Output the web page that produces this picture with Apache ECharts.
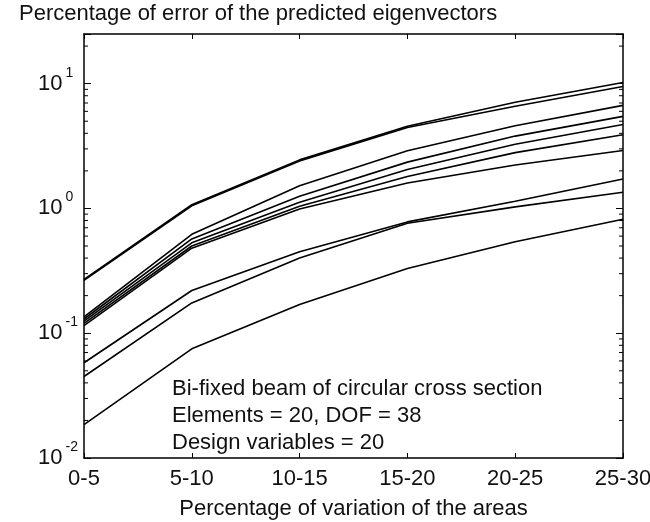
<!DOCTYPE html>
<html><head><meta charset="utf-8">
<script src="https://cdn.jsdelivr.net/npm/echarts@6/dist/echarts.min.js"></script>
<style>html,body{margin:0;padding:0;background:#fff}#c{width:650px;height:522px}</style>
</head><body><div id="c"></div>
<script>
// ---- data ----
const categories = ['0-5', '5-10', '10-15', '15-20', '20-25', '25-30'];
const line1 = [0.27, 1.07, 2.45, 4.55, 7.1, 10.2];
const line2 = [0.265, 1.05, 2.4, 4.45, 6.6, 9.5];
const line3 = [0.135, 0.62, 1.52, 2.9, 4.6, 6.7];
const line4 = [0.13, 0.57, 1.25, 2.35, 3.8, 5.47];
const line5 = [0.125, 0.53, 1.12, 2.05, 3.27, 4.71];
const line6 = [0.12, 0.5, 1.04, 1.8, 2.8, 3.9];
const line7 = [0.115, 0.48, 0.99, 1.6, 2.23, 2.91];
const lineA = [0.058, 0.22, 0.45, 0.78, 1.14, 1.72];
const lineB = [0.045, 0.175, 0.40, 0.76, 1.03, 1.35];
const lineC = [0.0185, 0.075, 0.17, 0.33, 0.54, 0.82];
const yTickValues = [0.01, 0.1, 1, 10];
const yTickExponents = ['-2', '-1', '0', '1'];
const yMinorTicks = [0.02,0.03,0.04,0.05,0.06,0.07,0.08,0.09,0.2,0.3,0.4,0.5,0.6,0.7,0.8,0.9,2,3,4,5,6,7,8,9,20];
const annotation = ['Bi-fixed beam of circular cross section', 'Elements = 20, DOF = 38', 'Design variables = 20'];
const titleText = 'Percentage of error of the predicted eigenvectors';
const xName = 'Percentage of variation of the areas';

const FONT = 'Liberation Sans, Arial, sans-serif';
const TXT = '#111';
const allLines = [line1, line2, line3, line4, line5, line6, line7, lineA, lineB, lineC];

const chart = echarts.init(document.getElementById('c'), null, {renderer: 'canvas'});
const axisLine = {show: true, lineStyle: {color: '#000', width: 1.5}};
function yLabel(v) {
  for (let i = 0; i < yTickValues.length; i++) {
    if (Math.abs(Math.log10(v) - Math.log10(yTickValues[i])) < 1e-6) return '{b|10}{s|' + yTickExponents[i] + '}';
  }
  return '';
}
const option = {
  animation: false,
  backgroundColor: '#fff',
  title: {text: titleText, left: 14, top: -2, textStyle: {fontFamily: FONT, fontSize: 22, fontWeight: 'normal', color: TXT}},
  grid: {left: 84, right: 27, top: 34, bottom: 64, containLabel: false, outerBoundsMode: 'none'},
  xAxis: [{
    type: 'category', data: categories, boundaryGap: false,
    axisLine: axisLine,
    axisTick: {show: true, inside: true, length: 5, lineStyle: {color: '#000', width: 1}},
    axisLabel: {fontFamily: FONT, fontSize: 22, color: TXT, margin: 10},
    splitLine: {show: false},
    name: xName, nameLocation: 'middle', nameGap: 40,
    nameTextStyle: {fontFamily: FONT, fontSize: 22, color: TXT}
  }, {
    type: 'category', data: categories, boundaryGap: false, position: 'top',
    axisLine: axisLine,
    axisTick: {show: true, inside: true, length: 5, lineStyle: {color: '#000', width: 1}},
    axisLabel: {show: false}, splitLine: {show: false}
  }],
  yAxis: [{
    type: 'log', logBase: 10, min: 0.01, max: 25,
    axisLine: axisLine,
    axisTick: {show: true, inside: true, length: 7, lineStyle: {color: '#000', width: 1}},
    splitLine: {show: false},
    axisLabel: {
      formatter: yLabel, align: 'left', margin: 46, color: TXT,
      rich: {
        b: {fontFamily: FONT, fontSize: 22, lineHeight: 22, color: TXT},
        s: {fontFamily: FONT, fontSize: 14, lineHeight: 14, color: TXT, padding: [0, 2, 22, 3]}
      }
    }
  }, {
    type: 'log', logBase: 10, min: 0.01, max: 25, position: 'right',
    axisLine: axisLine,
    axisTick: {show: true, inside: true, length: 7, lineStyle: {color: '#000', width: 1}},
    splitLine: {show: false}, axisLabel: {show: false}
  }],
  graphic: [{
    type: 'text', left: 172, top: 375, silent: true,
    style: {text: annotation.join('\n'), font: '22px ' + FONT, fill: TXT, lineHeight: 27}
  }],
  series: allLines.map(d => ({
    type: 'line', data: d, symbol: 'none', silent: true,
    lineStyle: {color: '#000', width: 1.6}, xAxisIndex: 0, yAxisIndex: 0
  })).concat([{
    type: 'custom', silent: true, xAxisIndex: 0, yAxisIndex: 0, clip: false,
    data: yMinorTicks.map(v => [0, v]),
    renderItem: function (params, api) {
      const v = api.value(1);
      const pL = api.coord([0, v]);
      const pR = api.coord([categories.length - 1, v]);
      return {type: 'group', children: [
        {type: 'line', shape: {x1: pL[0], y1: pL[1], x2: pL[0] + 4, y2: pL[1]}, style: {stroke: '#000', lineWidth: 1}},
        {type: 'line', shape: {x1: pR[0] - 4, y1: pR[1], x2: pR[0], y2: pR[1]}, style: {stroke: '#000', lineWidth: 1}}
      ]};
    }
  }])
};
chart.setOption(option);
</script>
</body></html>
